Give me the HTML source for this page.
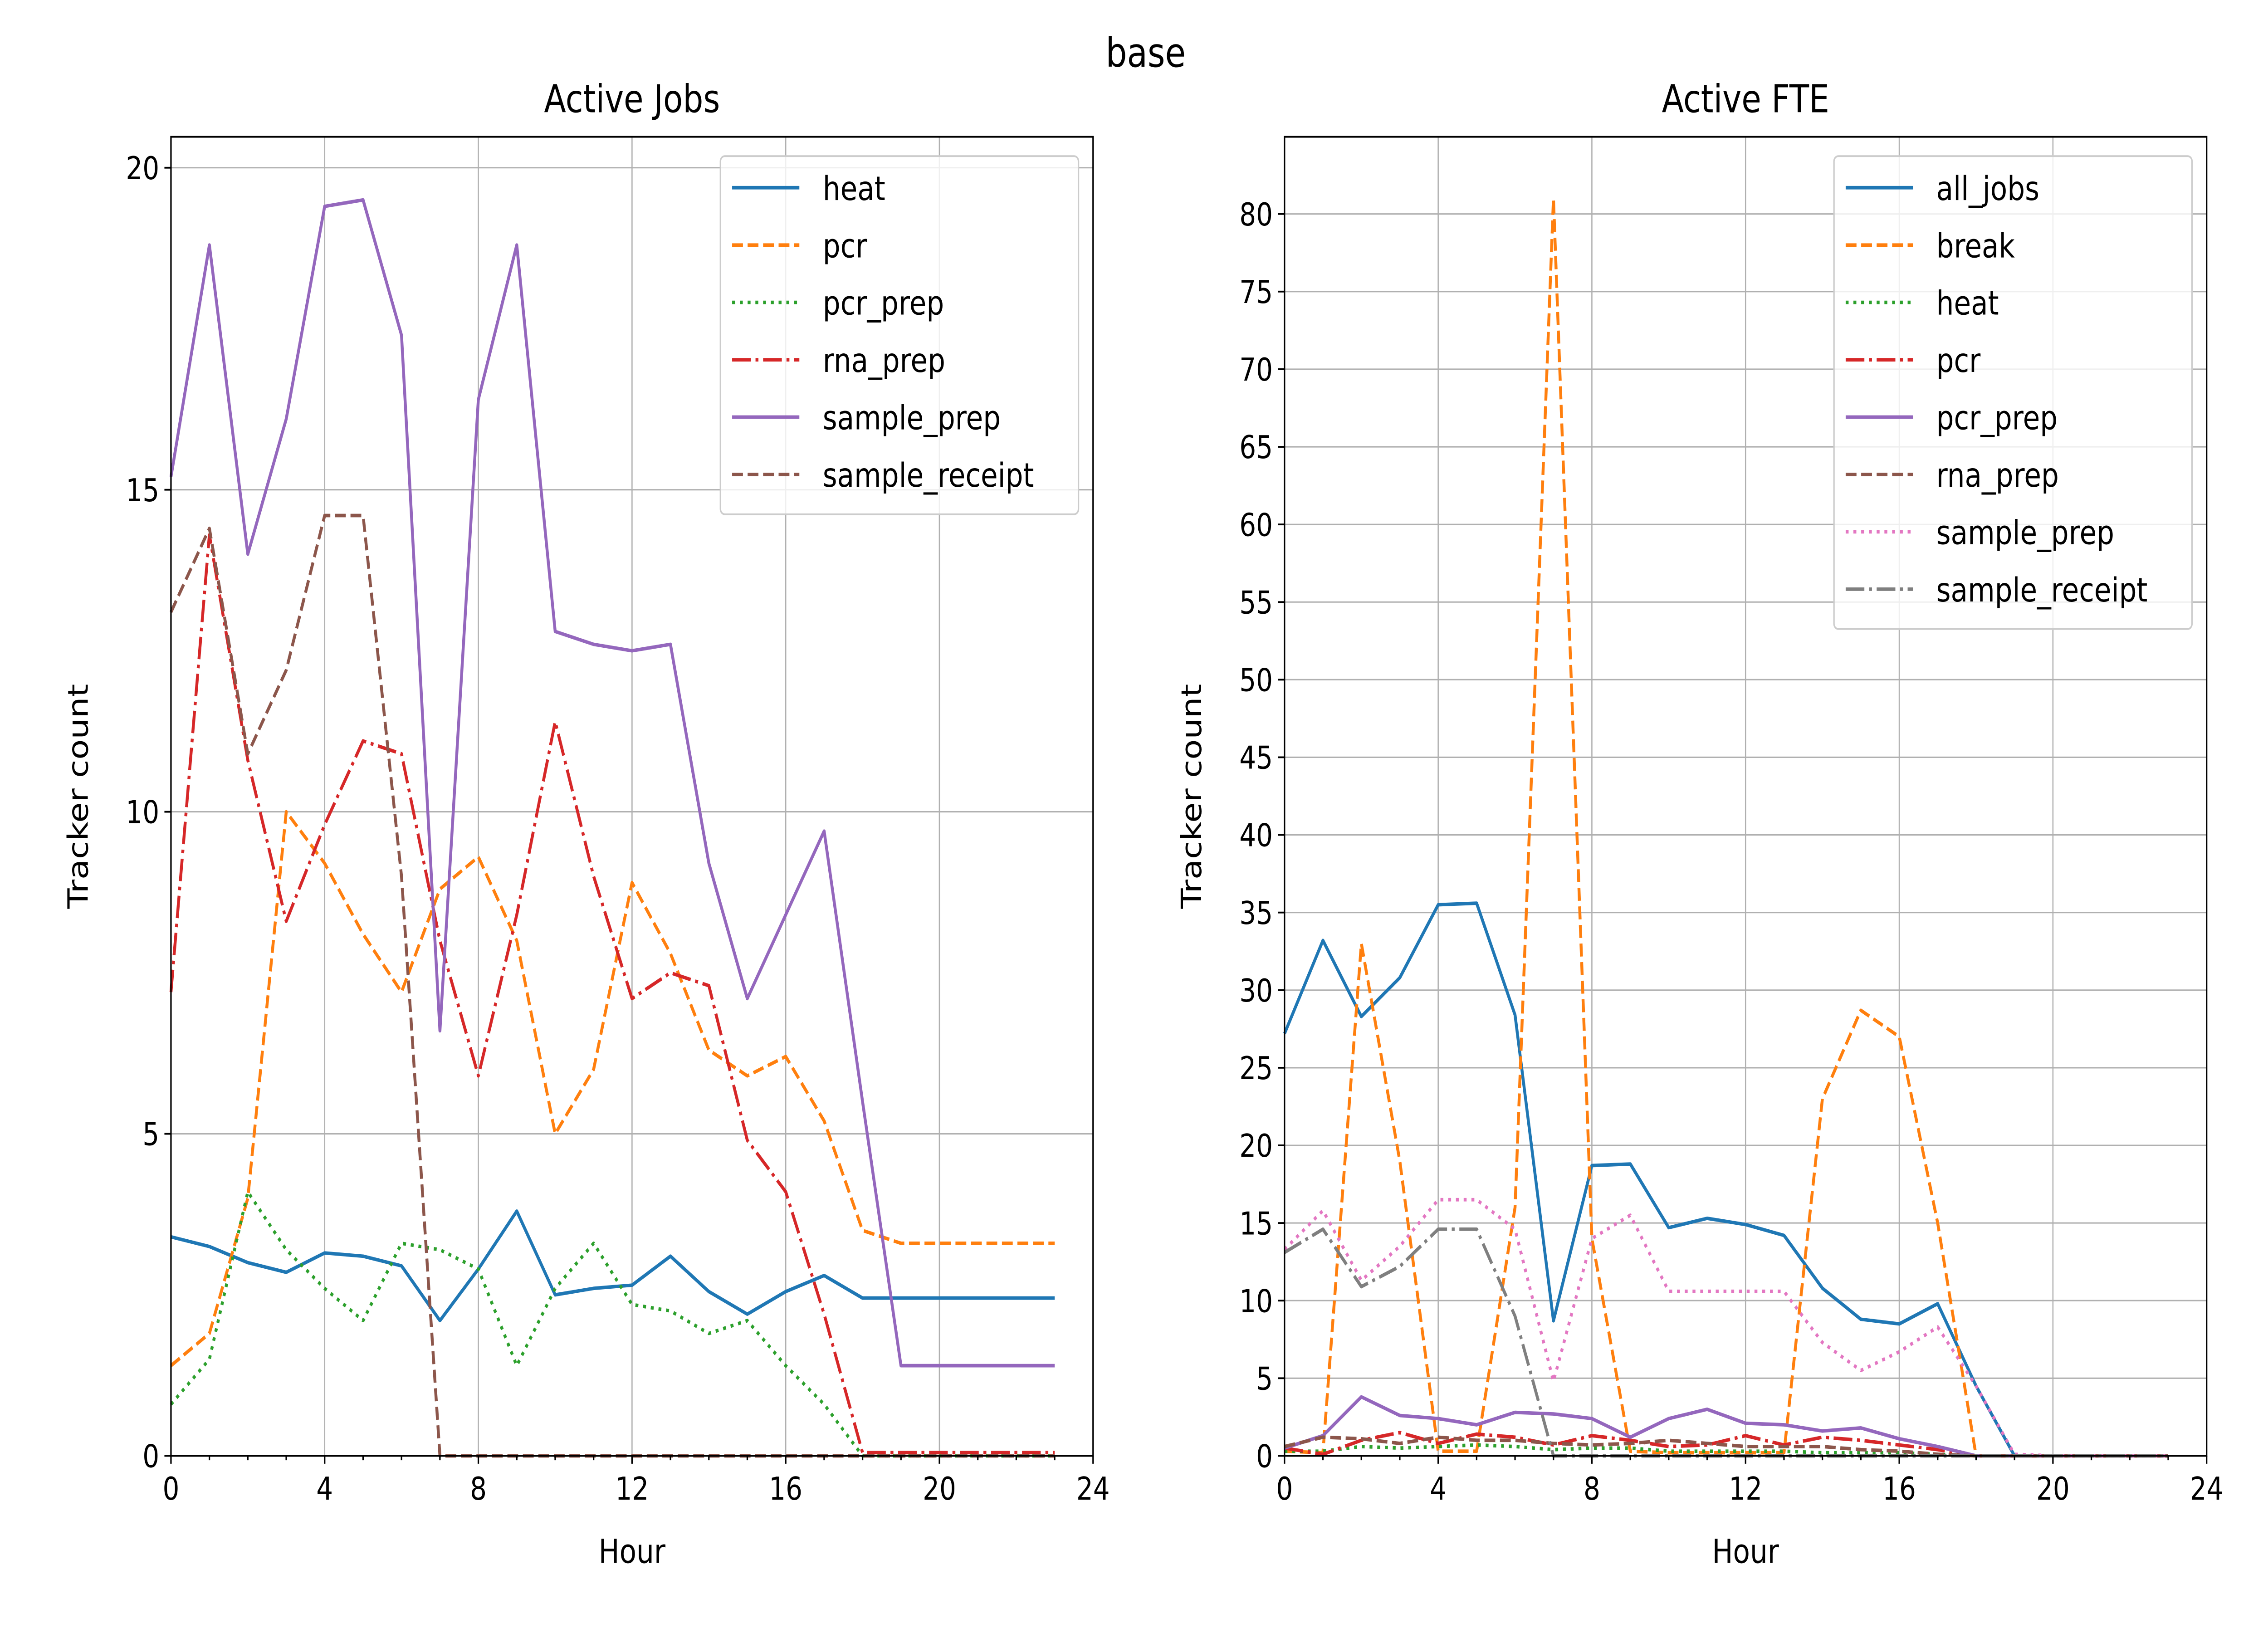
<!DOCTYPE html>
<html><head><meta charset="utf-8"><style>
html,body{margin:0;padding:0;background:#fff;width:100%;height:100%;overflow:hidden}
svg{display:block;width:100vw;height:100vh}
text{font-family:"DejaVu Sans","Liberation Sans",sans-serif;fill:#000}
</style></head><body>
<svg id="fig" viewBox="0 0 1552 931" preserveAspectRatio="none" xmlns="http://www.w3.org/2000/svg">
<rect width="1552" height="931" fill="#fff"/>
<text x="784" y="38" font-size="23" text-anchor="middle">base</text>
<g id="left"></g>
<g id="right"></g>
</svg>
<script>
const hours = Array.from({length:24},(_,i)=>i);
const jobsNames = ["heat","pcr","pcr_prep","rna_prep","sample_prep","sample_receipt"];
const jobsHeat = [3.4,3.25,3.0,2.85,3.15,3.1,2.95,2.1,2.9,3.8,2.5,2.6,2.65,3.1,2.55,2.2,2.55,2.8,2.45,2.45,2.45,2.45,2.45,2.45];
const jobsPcr = [1.4,1.9,4.0,10.0,9.2,8.1,7.2,8.8,9.3,8.0,5.0,6.0,8.9,7.8,6.3,5.9,6.2,5.2,3.5,3.3,3.3,3.3,3.3,3.3];
const jobsPcrPrep = [0.8,1.5,4.1,3.2,2.6,2.1,3.3,3.2,2.9,1.4,2.6,3.3,2.35,2.25,1.9,2.1,1.4,0.8,0,0,0,0,0,0];
const jobsRnaPrep = [7.2,14.3,10.8,8.3,9.8,11.1,10.9,8.0,5.9,8.4,11.4,9.0,7.1,7.5,7.3,4.9,4.1,2.2,0.05,0.05,0.05,0.05,0.05,0.05];
const jobsSamplePrep = [15.2,18.8,14.0,16.1,19.4,19.5,17.4,6.6,16.4,18.8,12.8,12.6,12.5,12.6,9.2,7.1,8.4,9.7,5.5,1.4,1.4,1.4,1.4,1.4];
const jobsSampleReceipt = [13.1,14.4,10.9,12.2,14.6,14.6,9.0,0,0,0,0,0,0,0,0,0,0,0,0,0,0,0,0,0];
const jobsTicksY = [0,5,10,15,20];
const xTicks = [0,4,8,12,16,20,24];

const fteNames = ["all_jobs","break","heat","pcr","pcr_prep","rna_prep","sample_prep","sample_receipt"];
const fteAll = [27.2,33.2,28.3,30.8,35.5,35.6,28.4,8.7,18.7,18.8,14.7,15.3,14.9,14.2,10.8,8.8,8.5,9.8,4.5,0,0,0,0,0];
const fteBreak = [0.3,0.2,33,19,0.3,0.3,16,81,14,0.3,0.2,0.2,0.2,0.2,23,28.7,27,15,0,0,0,0,0,0];
const fteHeat = [0.3,0.3,0.6,0.5,0.6,0.7,0.6,0.4,0.5,0.5,0.3,0.3,0.3,0.3,0.2,0.2,0.2,0.1,0,0,0,0,0,0];
const ftePcr = [0.5,0.1,1.0,1.5,0.8,1.4,1.2,0.7,1.3,1.0,0.6,0.7,1.3,0.7,1.2,1.0,0.7,0.4,0,0,0,0,0,0];
const ftePcrPrep = [0.5,1.3,3.8,2.6,2.4,2.0,2.8,2.7,2.4,1.2,2.4,3.0,2.1,2.0,1.6,1.8,1.1,0.6,0,0,0,0,0,0];
const fteRnaPrep = [0.6,1.2,1.1,0.8,1.2,1.0,1.0,0.8,0.7,0.8,1.0,0.8,0.6,0.6,0.6,0.4,0.3,0.1,0,0,0,0,0,0];
const fteSamplePrep = [13.3,15.8,11.3,13.5,16.5,16.5,14.6,4.8,14.0,15.5,10.6,10.6,10.6,10.6,7.3,5.5,6.7,8.3,4.5,0.1,0,0,0,0];
const fteSampleReceipt = [13.1,14.6,10.9,12.2,14.6,14.6,9.0,0,0,0,0,0,0,0,0,0,0,0,0,0,0,0,0,0];
const fteTicksY = [0,5,10,15,20,25,30,35,40,45,50,55,60,65,70,75,80];

const NS="http://www.w3.org/2000/svg";
const C={blue:"#1f77b4",orange:"#ff7f0e",green:"#2ca02c",red:"#d62728",purple:"#9467bd",brown:"#8c564b",pink:"#e377c2",gray:"#7f7f7f"};
const DASH={solid:"",dashed:"7.4,3.2",dotted:"2,3.3",dashdot:"12.8,3.2,2,3.2"};
function el(tag,attrs,parent){const e=document.createElementNS(NS,tag);for(const k in attrs)e.setAttribute(k,attrs[k]);parent.appendChild(e);return e;}

function chart(g,o){
  const L=o.L,R=o.L+631,T=78,B=830;
  const sx=v=>L+(v-0)/24*(R-L);
  const sy=v=>B-(v-o.ymin)/(o.ymax-o.ymin)*(B-T);
  o.yt.forEach(t=>{const y=sy(t);el("line",{x1:L,x2:R,y1:y,y2:y,stroke:"#b0b0b0","stroke-width":0.8},g);});
  xTicks.forEach(t=>{const x=sx(t);el("line",{x1:x,x2:x,y1:T,y2:B,stroke:"#b0b0b0","stroke-width":0.8},g);});
  o.series.forEach(s=>{
    const p=el("polyline",{points:hours.map((h,i)=>sx(h)+","+sy(s.d[i])).join(" "),fill:"none",stroke:s.c,"stroke-width":2,"stroke-dasharray":DASH[s.st],"stroke-linejoin":"round"},g);
    
    
  });
  const f=el("rect",{x:L,y:T,width:R-L,height:B-T,fill:"none",stroke:"#000","stroke-width":1},g);
  
  
  o.yt.forEach(t=>{const y=sy(t);el("line",{x1:L-4.5,x2:L,y1:y,y2:y,stroke:"#000","stroke-width":1},g);
    const tx=el("text",{x:L-8,y:y+6.5,"font-size":18,"text-anchor":"end"},g);tx.textContent=t;
    
    });
  for(let h=0;h<=24;h++){const x=sx(h);el("line",{x1:x,x2:x,y1:B,y2:B+(h%4==0?4.5:2.5),stroke:"#000","stroke-width":1},g);}
  xTicks.forEach(t=>{const tx=el("text",{x:sx(t),y:B+25,"font-size":18,"text-anchor":"middle"},g);tx.textContent=t;
    
    });
  const xl=el("text",{x:(L+R)/2,y:B+61,"font-size":19,"text-anchor":"middle"},g);xl.textContent="Hour";
  
  
  const yx=L-57,yy=(T+B)/2;
  const yl=el("text",{x:yx,y:yy,"font-size":19,"text-anchor":"middle",transform:`rotate(-90 ${yx} ${yy})`},g);yl.textContent="Tracker count";
  
  
  const ti=el("text",{x:(L+R)/2,y:64,"font-size":22,"text-anchor":"middle"},g);ti.textContent=o.title;
  
  
  const lx=R-255,ly=89,lh=o.series.length*32.7+8;
  const lg=el("g",{},g);
  
  
  el("rect",{x:lx,y:ly,width:245,height:lh,fill:"#fff","fill-opacity":0.8,stroke:"#ccc","stroke-width":1,rx:3},lg);
  o.series.forEach((s,i)=>{const y=ly+18+i*32.7;
    const e=el("g",{},lg);
    
    
    el("line",{x1:lx+8,x2:lx+54,y1:y,y2:y,stroke:s.c,"stroke-width":2,"stroke-dasharray":DASH[s.st]},e);
    const t=el("text",{x:lx+70,y:y+7,"font-size":19},e);t.textContent=s.n;});
}
chart(document.getElementById("left"),{L:117,ymin:0,ymax:20.48,yt:jobsTicksY,title:"Active Jobs",series:[
 {n:jobsNames[0],d:jobsHeat,c:C.blue,st:"solid"},
 {n:jobsNames[1],d:jobsPcr,c:C.orange,st:"dashed"},
 {n:jobsNames[2],d:jobsPcrPrep,c:C.green,st:"dotted"},
 {n:jobsNames[3],d:jobsRnaPrep,c:C.red,st:"dashdot"},
 {n:jobsNames[4],d:jobsSamplePrep,c:C.purple,st:"solid"},
 {n:jobsNames[5],d:jobsSampleReceipt,c:C.brown,st:"dashed"}]});
chart(document.getElementById("right"),{L:879,ymin:0,ymax:84.97,yt:fteTicksY,title:"Active FTE",series:[
 {n:fteNames[0],d:fteAll,c:C.blue,st:"solid"},
 {n:fteNames[1],d:fteBreak,c:C.orange,st:"dashed"},
 {n:fteNames[2],d:fteHeat,c:C.green,st:"dotted"},
 {n:fteNames[3],d:ftePcr,c:C.red,st:"dashdot"},
 {n:fteNames[4],d:ftePcrPrep,c:C.purple,st:"solid"},
 {n:fteNames[5],d:fteRnaPrep,c:C.brown,st:"dashed"},
 {n:fteNames[6],d:fteSamplePrep,c:C.pink,st:"dotted"},
 {n:fteNames[7],d:fteSampleReceipt,c:C.gray,st:"dashdot"}]});
</script>
</body></html>
